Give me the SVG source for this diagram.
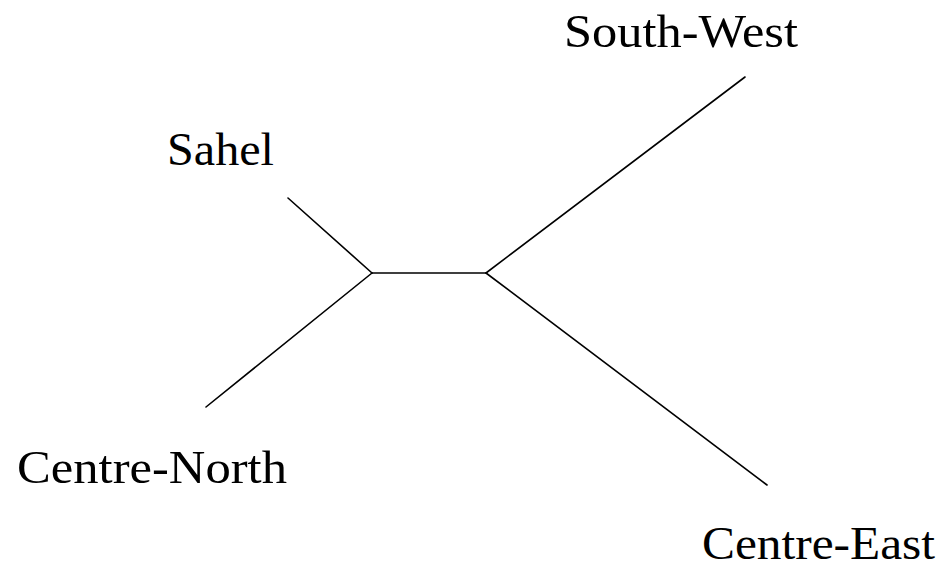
<svg xmlns="http://www.w3.org/2000/svg" width="947" height="568" viewBox="0 0 947 568">
<style>
.lbl{font-family:"Liberation Serif","DejaVu Serif",serif;font-size:46px;fill:#000}
.edge{stroke:#000;stroke-width:1.6;fill:none;stroke-linecap:round}
</style>
<rect width="947" height="568" fill="#fff"/>
<g id="edges">
<line class="edge" x1="288" y1="198" x2="372" y2="273"/>
<line class="edge" x1="206" y1="407" x2="372" y2="273"/>
<line class="edge" x1="372" y1="273" x2="486" y2="273"/>
<line class="edge" x1="745" y1="77" x2="486" y2="273"/>
<line class="edge" x1="767" y1="485" x2="486" y2="273"/>
</g>
<g id="sahel"><text class="lbl" x="167" y="165" textLength="107" lengthAdjust="spacingAndGlyphs">Sahel</text></g>
<g id="south-west"><text class="lbl" x="564" y="47" textLength="234" lengthAdjust="spacingAndGlyphs">South-West</text></g>
<g id="centre-north"><text class="lbl" x="17" y="483" textLength="270" lengthAdjust="spacingAndGlyphs">Centre-North</text></g>
<g id="centre-east"><text class="lbl" x="702" y="559" textLength="233" lengthAdjust="spacingAndGlyphs">Centre-East</text></g>
</svg>
